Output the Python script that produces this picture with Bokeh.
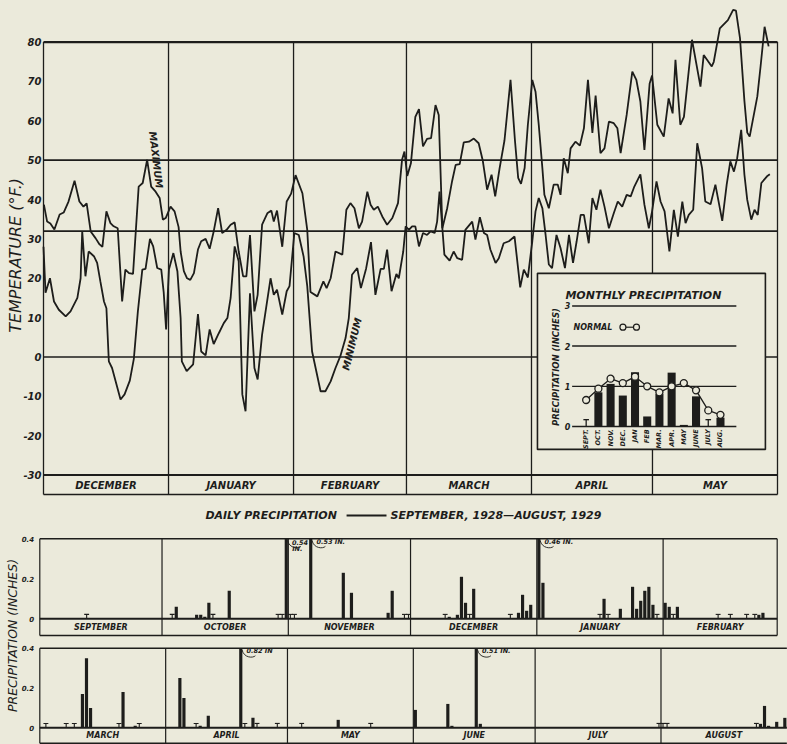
import numpy as np
from bokeh.plotting import figure
from bokeh.models import Range1d
from bokeh.embed import file_html
from bokeh.resources import INLINE
from bokeh.core.properties import value

BG = "#ebeadb"
INK = "#1d1d1b"
FONT = "DejaVu Sans"
BI = "bold italic"

# ---------------- temperature data (Dec 1928 - May 1929) ----------------
temp_months = ["DECEMBER", "JANUARY", "FEBRUARY", "MARCH", "APRIL", "MAY"]
temp_month_days = [31, 31, 28, 31, 30, 31]
temp_ticks = [-30, -20, -10, 0, 10, 20, 30, 40, 50, 60, 70, 80]
temp_rules = [80, 50, 32, 0, -30]

max_day = [0.1, 0.9, 1.7, 2.7, 4.0, 5.0, 6.2, 7.7, 8.9, 9.9, 10.7, 11.7, 12.9, 13.9, 14.6, 15.6,
           16.6, 17.4, 18.4, 19.5, 20.3, 21.2, 22.2, 23.6, 24.6, 25.7, 26.7, 27.8, 28.8, 29.6, 30.3,
           31.5, 32.5, 33.5, 34.0, 34.8, 35.6, 36.4, 37.3, 38.3, 39.1, 40.2, 41.2, 42.2, 43.3, 44.3,
           45.4, 46.4, 47.4, 48.4, 49.5, 50.3, 51.2, 52.3, 53.1, 54.2, 55.5, 56.5, 57.1, 57.9, 59.2, 60.3,
           61.4, 62.5, 64.2, 65.4, 66.2, 67.9, 69.4, 70.2, 71.2, 72.4, 74.1, 75.1, 76.1, 77.1, 78.2,
           79.0, 80.3, 81.1, 81.9, 82.9, 84.0, 85.2, 86.5, 87.9, 88.9, 89.5,
           90.2, 91.1, 92.2, 93.1, 94.1, 95.1, 96.1, 97.2, 98.0, 98.9, 100.1, 101.3, 102.2, 103.2,
           104.2, 105.5, 106.7, 107.9, 108.9, 110.0, 111.1, 112.0, 113.1, 114.3, 115.8, 116.9, 117.7,
           118.4, 119.3,
           120.1, 121.2, 122.0, 122.8, 123.7, 124.2, 125.3, 126.5, 127.5, 128.2, 129.0, 130.0, 130.7,
           131.9, 133.0, 134.0, 135.0, 136.1, 136.9, 138.1, 139.1, 140.2, 141.4, 142.3, 143.1, 144.6,
           146.0, 147.0, 148.0, 149.0,
           150.3, 150.9, 152.2, 153.8, 155.0, 156.0, 156.7, 157.9, 158.8, 160.8, 162.9, 163.7, 165.7,
           166.2, 167.7, 169.7, 171.0, 171.7, 172.7, 173.8, 174.5, 175.1, 177.0, 177.8, 178.8, 179.8]
max_temp = [38.7, 34.4, 33.9, 32.4, 36.2, 36.7, 39.5, 44.8, 39.5, 38.2, 39, 31.9, 30.2, 28.6, 28, 37,
            34, 33.2, 32.7, 14.1, 22.2, 21.3, 21.1, 43.3, 44.2, 50.1, 43.3, 42, 40.4, 34.9, 35.3,
            38.2, 37, 33, 26.8, 21.8, 20, 19.6, 21.3, 27.3, 29.4, 30, 27.5, 31.9, 37.8, 31.5,
            32.3, 33.6, 34.2, 26.8, 20.5, 20.5, 31, 11.6, 15.8, 33.6, 36.5, 37.2, 34.4, 37.2, 28, 39.5,
            41.5, 46.2, 41.6, 32.3, 16.5, 15.4, 19.2, 17.5, 20, 26.8, 26, 37.4, 39.1, 37.8, 32.7,
            34.4, 42, 38.7, 37.4, 38.2, 35.7, 33.6, 35.3, 39.1, 50.1, 52.2,
            46, 49.2, 61, 63, 53.5, 55.4, 55.6, 64, 61.5, 32.7, 37.8, 44.6, 48.8, 49,
            54.5, 54.7, 55.5, 54.3, 50, 42.5, 46.3, 40.8, 48, 55, 70.4, 55, 45.5,
            44, 48,
            59, 70.4, 67.4, 59, 48, 41.2, 37.8, 43.8, 43.8, 41.2, 50.5, 46.7, 53,
            54.7, 53.7, 58.1, 70.4, 56.9, 66.4, 51.8, 53, 59.8, 59.4, 58.1, 51.8, 61.5,
            72.5, 70.4, 64.9, 52.6,
            69.5, 71.5, 59, 56, 65.7, 61.9, 75.5, 59, 61, 80.6, 68.7, 76.7, 73.8,
            75, 83.5, 85.6, 88.2, 88, 81, 65, 57, 56, 66.2, 73.8, 83.9, 78.9]

min_day = [0.0, 0.5, 1.6, 2.6, 3.8, 5.5, 6.7, 8.4, 9.2, 9.6, 10.4, 11.2, 12.5, 13.3, 14.1, 15.0,
           15.6, 16.2, 17.0, 18.1, 19.1, 20.1, 21.4, 22.4, 23.4, 24.5, 25.3, 26.4, 27.2, 28.2, 29.2,
           29.8, 30.4,
           31.1, 32.2, 33.2, 34.0, 34.3, 35.5, 37.1, 38.3, 39.1, 40.2, 41.2, 42.2, 43.5, 44.7, 45.6,
           46.4, 47.4, 48.4, 49.3, 50.1, 51.2, 52.3, 53.1, 54.2, 56.3, 57.1, 57.9, 59.2, 60.3, 61.0,
           62.2, 63.3, 64.5, 65.4, 66.6, 68.7, 69.9, 71.2, 72.4, 73.6, 74.9, 75.7, 76.5, 77.8, 78.7,
           80.0, 81.2, 82.3, 83.6, 84.4, 85.2, 86.3, 87.5, 88.1, 89.2,
           89.8, 90.6, 91.4, 92.2, 93.1, 94.1, 95.1, 96.0, 97.0, 97.6, 98.2, 98.9, 99.4, 100.7, 101.7,
           102.6, 103.8, 104.6, 106.3, 107.1, 108.2, 109.2, 110.0, 110.8, 112.1, 112.9, 114.1, 115.4,
           116.8, 118.2, 119.1, 120.1,
           121.2, 122.0, 122.8, 123.7, 124.5, 125.3, 126.1, 127.2, 128.2, 129.3, 130.3, 131.3, 132.2,
           133.2, 134.0, 135.2, 136.1, 137.1, 138.1, 139.1, 140.2, 141.4, 142.4, 143.5, 144.6, 145.6,
           146.5, 148.0, 149.0, 150.1,
           150.9, 152.0, 153.0, 154.0, 155.2, 156.3, 157.3, 158.4, 159.2, 160.0, 161.1, 162.1, 163.3,
           164.1, 165.4, 166.6, 168.3, 169.4, 170.3, 171.2, 172.0, 173.0, 173.8, 174.5, 175.5, 176.3,
           177.1, 178.0, 179.4, 180.1]
min_temp = [28, 16.3, 20, 14.1, 12, 10.3, 11.6, 15, 20, 31.9, 20.5, 26.8, 25.6, 23.9, 19.2, 14.1,
            12.4, -1.1, -2.8, -7, -10.8, -9.5, -6, -0.5, 11.6, 22.2, 22.4, 30, 28.1, 22.6, 22.2,
            16.5, 7,
            22.2, 26.4, 21.8, 9.9, -1.1, -3.6, -1.9, 10.9, 1.4, 0.4, 7, 3.3, 6.1, 8.6, 9.9,
            15, 28.1, 24.3, -9.5, -13.8, 16.2, -2.8, -5.7, 5.7, 20, 15.8, 17.1, 10.8, 16.7, 18,
            31.5, 31, 25.5, 18, 1.4, -8.7, -8.7, -6.2, -2.8, 0.2, 4.8, 9.9, 20.9, 22.6, 17.5,
            22.5, 29.2, 15.8, 22.4, 22.4, 27.3, 16.7, 21.1, 20, 26.8,
            33.2, 32.3, 33.2, 33.2, 28.1, 31.5, 31, 31.9, 31.5, 34.4, 42, 32.7, 26, 24.5, 26.8,
            25.1, 24.7, 32.3, 34.4, 29.8, 35.5, 31.5, 31, 27.3, 23.9, 25.1, 28.9, 29.4,
            30.6, 17.7, 22.2, 20.2,
            29.4, 37, 40.4, 37.8, 31, 23.5, 22.6, 31, 27.7, 22.6, 31, 23.9, 29.4,
            36.1, 36.1, 28.9, 40.4, 37.4, 42.5, 38.2, 32.7, 36.5, 39.5, 38.2, 41.2, 40.8,
            43.3, 46.4, 38.7, 32.7,
            37, 44.6, 39.5, 37, 26.8, 37.4, 30.6, 39.5, 34, 36.1, 37.4, 54.3, 48,
            39.5, 38.8, 43.8, 34.6, 43.8, 49.7, 47.1, 50.5, 57.7, 46.3, 39.9, 34.9, 37.4,
            36.1, 44.2, 45.9, 46.4]

# ---------------- monthly precipitation inset ----------------
monthly_labels = ["SEPT.", "OCT.", "NOV.", "DEC.", "JAN", "FEB", "MAR.", "APR.", "MAY", "JUNE", "JULY", "AUG."]
monthly_precip = [0.0, 0.85, 1.06, 0.77, 1.35, 0.25, 0.81, 1.34, 0.04, 0.75, 0.0, 0.22]
monthly_trace = [1, 0, 0, 0, 0, 0, 0, 0, 0, 0, 1, 0]
monthly_normal = [0.66, 0.94, 1.19, 1.08, 1.24, 1.0, 0.85, 1.0, 1.08, 0.9, 0.4, 0.29]
inset_ticks = [0, 1, 2, 3]

# ---------------- daily precipitation ----------------
row1_months = ["SEPTEMBER", "OCTOBER", "NOVEMBER", "DECEMBER", "JANUARY", "FEBRUARY"]
row1_month_days = [30, 31, 30, 31, 31, 28]
row1_rain_day = [33, 38, 39, 40, 41, 46, 60,
                 66, 74, 76, 85, 86,
                 100, 102, 103, 104, 106, 117, 118, 119, 120,
                 122, 123, 138, 142, 145, 146, 147, 148, 149, 150,
                 153, 154, 156, 176, 177]
row1_rain = [0.06, 0.02, 0.02, 0.01, 0.08, 0.14, 0.54,
             0.53, 0.23, 0.13, 0.03, 0.14,
             0.01, 0.02, 0.21, 0.08, 0.15, 0.03, 0.12, 0.04, 0.07,
             0.46, 0.18, 0.10, 0.05, 0.16, 0.05, 0.09, 0.14, 0.16, 0.07,
             0.08, 0.06, 0.06, 0.02, 0.03]
row1_trace_day = [11, 32, 42, 58, 59, 61, 62, 89, 90, 99, 105, 115, 137, 139, 151, 155,
                  166, 169, 173, 175]
row1_notes_day = [60, 66, 122]
row1_notes = ["0.54", "0.53 IN.", "0.46 IN."]

row2_months = ["MARCH", "APRIL", "MAY", "JUNE", "JULY", "AUGUST"]
row2_month_days = [31, 30, 31, 30, 31, 31]
row2_rain_day = [10, 11, 12, 20, 23,
                 34, 35, 39, 41, 49, 52,
                 73,
                 92, 100, 101, 107, 108,
                 177, 178, 179, 181, 183]
row2_rain = [0.17, 0.35, 0.10, 0.18, 0.01,
             0.25, 0.15, 0.01, 0.06, 0.82, 0.05,
             0.04,
             0.09, 0.12, 0.01, 0.51, 0.02,
             0.02, 0.11, 0.01, 0.03, 0.05]
row2_trace_day = [1, 6, 8, 19, 24, 38, 50, 53, 58, 64, 81, 152, 153, 154, 176]
row2_notes_day = [49, 107]
row2_notes = ["0.82 IN", "0.51 IN."]
precip_ticks = [0, 0.2, 0.4]
precip_tick_labels = ["0", "0.2", "0.4"]


def txt(fig, x, y, text, size, style=BI, align="center", baseline="middle", angle=0.0, **kw):
    fig.text(x=list(np.atleast_1d(x)), y=list(np.atleast_1d(y)),
             text=text if isinstance(text, list) else [text],
             text_font=value(FONT), text_font_style=style, text_font_size=size,
             text_align=align, text_baseline=baseline, angle=angle, text_color=INK, **kw)


# One canvas; each panel gets its own pair of scales (ranges).
p = figure(width=787, height=744,
           x_range=Range1d(-10.662, 184.48), y_range=Range1d(-98.45, 90.57),
           output_backend="svg", toolbar_location=None,
           x_axis_location=None, y_axis_location=None, min_border=0,
           background_fill_color=BG, border_fill_color=BG, outline_line_color=None)
p.grid.visible = False
p.extra_x_ranges = {"ix": Range1d(-47.97, 16.49),
                    "r1x": Range1d(-9.646, 183.53),
                    "r2x": Range1d(-9.680, 184.16)}
p.extra_y_ranges = {"iy": Range1d(-7.910, 10.597),
                    "r1y": Range1d(-0.6285, 3.0915),
                    "r2y": Range1d(-0.0839, 3.6548)}

# ======================= temperature chart =======================
bounds = np.concatenate([[0], np.cumsum(temp_month_days)])
BAND = -34.93
p.segment(x0=0, x1=bounds[-1], y0=temp_rules, y1=temp_rules, line_color=INK,
          line_width=[2.2, 1.7, 1.7, 1.7, 2.0])
p.segment(x0=[0], x1=[bounds[-1]], y0=[BAND], y1=[BAND], line_color=INK, line_width=1.6)
p.segment(x0=bounds, x1=bounds, y0=BAND, y1=80, line_color=INK, line_width=1.3)
centers = (bounds[:-1] + bounds[1:]) / 2
txt(p, centers, [-32.7] * 6, temp_months, "10px")
txt(p, [-0.5] * len(temp_ticks), temp_ticks, [str(t) for t in temp_ticks], "10px", align="right")
txt(p, -6.82, 25.8, "TEMPERATURE (°F.)", "16px", style="italic", angle=np.pi / 2)

p.line(max_day, max_temp, line_color=INK, line_width=1.8)
p.line(min_day, min_temp, line_color=INK, line_width=1.8)
txt(p, 27.9, 50.1, "MAXIMUM", "10px", angle=-1.45)
txt(p, 76.5, 3.3, "MINIMUM", "10px", angle=1.33)

# ----- inset: monthly precipitation -----
IK = dict(x_range_name="ix", y_range_name="iy")
p.quad(left=[-3.99], right=[14.68], top=[3.81], bottom=[-0.57], fill_color=BG,
       line_color=INK, line_width=1.6, **IK)
p.segment(x0=-1.15, x1=12.3, y0=inset_ticks, y1=inset_ticks, line_color=INK,
          line_width=[1.6, 1.3, 1.5, 1.5], **IK)
txt(p, [-1.3] * 4, inset_ticks, [str(t) for t in inset_ticks], "8px", align="right", **IK)
mi = np.arange(12)
p.vbar(x=mi, top=monthly_precip, width=0.66, bottom=0, fill_color=INK, line_color=None, **IK)
tr = mi[np.array(monthly_trace) == 1]
p.segment(x0=tr - 0.23, x1=tr + 0.23, y0=0.17, y1=0.17, line_color=INK, line_width=1.3, **IK)
p.segment(x0=tr, x1=tr, y0=0, y1=0.17, line_color=INK, line_width=1.3, **IK)
p.line(mi, monthly_normal, line_color=INK, line_width=1.3, **IK)
p.scatter(mi, monthly_normal, size=7, fill_color=BG, line_color=INK, line_width=1.3, **IK)
txt(p, mi, [-0.07] * 12, monthly_labels, "6.5px", align="right", angle=np.pi / 2, **IK)
txt(p, -1.70, 3.26, "MONTHLY   PRECIPITATION", "11px", align="left", **IK)
txt(p, -1.04, 2.47, "NORMAL", "8px", align="left", **IK)
p.segment(x0=[3.01], x1=[4.12], y0=[2.47], y1=[2.47], line_color=INK, line_width=1.2, **IK)
p.scatter([3.01, 4.12], [2.47, 2.47], size=6, fill_color=BG, line_color=INK, line_width=1.2, **IK)
txt(p, -2.51, 1.48, "PRECIPITATION (INCHES)", "8.5px", angle=np.pi / 2, **IK)


# ======================= daily precipitation rows =======================
def draw_row(fig, months, mdays, rain_day, rain, trace_day, band, notes_day, notes,
             right_edge=True, **kw):
    b = np.concatenate([[0], np.cumsum(mdays)])
    fig.segment(x0=0, x1=b[-1], y0=[0.4, 0.0, band], y1=[0.4, 0.0, band], line_color=INK,
                line_width=[1.5, 1.9, 1.5], **kw)
    vb = b if right_edge else b[:-1]
    fig.segment(x0=vb, x1=vb, y0=band, y1=0.4, line_color=INK, line_width=1.2, **kw)
    d = np.array(rain_day) + 0.5
    fig.vbar(x=d, top=np.minimum(rain, 0.4), bottom=0, width=0.78, fill_color=INK,
             line_color=None, **kw)
    t = np.array(trace_day) + 0.5
    fig.segment(x0=t - 0.6, x1=t + 0.6, y0=0.022, y1=0.022, line_color=INK, line_width=1.1, **kw)
    fig.segment(x0=t, x1=t, y0=0, y1=0.022, line_color=INK, line_width=1.1, **kw)
    c = (b[:-1] + b[1:]) / 2
    txt(fig, c, [band / 2] * 6, months, "8px", **kw)
    txt(fig, [-1.4] * 3, precip_ticks, precip_tick_labels, "7px", align="right", **kw)
    # notes for bars running off the top of the row
    nd = np.array(notes_day) + 0.5
    txt(fig, nd + 1.4, [0.384] * len(nd), notes, "6.5px", align="left", **kw)
    fig.bezier(x0=nd + 0.3, y0=[0.392] * len(nd), x1=nd + 3.6, y1=[0.362] * len(nd),
               cx0=nd + 0.8, cy0=[0.35] * len(nd), cx1=nd + 3.0, cy1=[0.35] * len(nd),
               line_color=INK, line_width=0.9, **kw)


R1 = dict(x_range_name="r1x", y_range_name="r1y")
R2 = dict(x_range_name="r2x", y_range_name="r2y")
draw_row(p, row1_months, row1_month_days, row1_rain_day, row1_rain, row1_trace_day, -0.0835,
         row1_notes_day, row1_notes, **R1)
draw_row(p, row2_months, row2_month_days, row2_rain_day, row2_rain, row2_trace_day, -0.0774,
         row2_notes_day, row2_notes, right_edge=False, **R2)
txt(p, 61.95, 0.3515, "IN.", "6.5px", align="left", **R1)

txt(p, 74.79, 0.5165, "DAILY   PRECIPITATION", "11px", align="right", **R1)
p.segment(x0=[75.3], x1=[85.1], y0=[0.5165], y1=[0.5165], line_color=INK, line_width=2, **R1)
txt(p, 86.08, 0.5165, "SEPTEMBER, 1928—AUGUST, 1929", "11px", align="left", **R1)
txt(p, -6.7, -0.0835, "PRECIPITATION (INCHES)", "12.5px", style="italic", angle=np.pi / 2, **R1)

html = file_html(p, INLINE)
html = html.replace("<body>", '<body style="background-color:%s;">' % BG)
open("out.html", "w").write(html)
